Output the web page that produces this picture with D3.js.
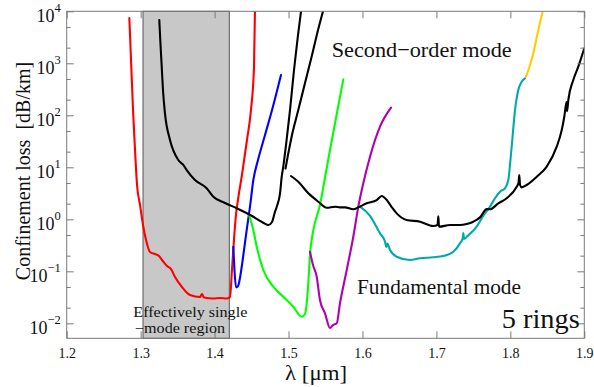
<!DOCTYPE html>
<html><head><meta charset="utf-8">
<script src="https://cdn.jsdelivr.net/npm/d3@7"></script>
<style>body{margin:0;background:#fff}svg{display:block}text{font-family:"Liberation Serif","Times New Roman",serif}</style>
</head><body><svg id="c" width="594" height="387"></svg>
<script>
// ---- data ----
const xTicks = [1.2, 1.3, 1.4, 1.5, 1.6, 1.7, 1.8, 1.9];
const yMajor = [1e-2, 1e-1, 1, 10, 100, 1000, 10000];
const yExponents = ["−2", "−1", "0", "1", "2", "3", "4"];
const yMinor = [2e-2, 5e-2, 0.2, 0.5, 2, 5, 20, 50, 200, 500, 2000, 5000];
const yDomain = [Math.pow(10, -2.288), 1e4];
const singleModeRegion = [1.3032, 1.4199];

const redCurve = [[1.2847,7430],[1.2870,1157],[1.2897,126],[1.2924,21.5],[1.2951,4.57],[1.2992,1.88],[1.3032,0.777],[1.3073,0.400],[1.3127,0.235],[1.3194,0.215],[1.3248,0.197],[1.3289,0.165],[1.3357,0.1265],[1.3411,0.1107],[1.3465,0.0776],[1.3559,0.0499],[1.3668,0.0350],[1.3803,0.0320],[1.3830,0.0366],[1.3857,0.0313],[1.3979,0.0300],[1.4073,0.0307],[1.4168,0.0300],[1.4208,0.0320],[1.4235,0.106],[1.4262,0.40],[1.4289,1.21],[1.4316,2.35],[1.4370,7.11],[1.4438,33.5],[1.4492,126],[1.4533,849],[1.4546,10000]];
const blueCurve = [[1.4253,0.297],[1.4269,0.106],[1.4290,0.0492],[1.4317,0.0521],[1.4367,0.1225],[1.4398,0.257],[1.4434,0.622],[1.4479,1.75],[1.4524,5.70],[1.4587,13.8],[1.4682,41.8],[1.4777,126],[1.4898,596]];
const greenCurve = [[1.4466,1.21],[1.4524,0.622],[1.4570,0.297],[1.4659,0.106],[1.4794,0.0506],[1.4929,0.0325],[1.5065,0.0208],[1.5178,0.0134],[1.5223,0.0151],[1.5250,0.0281],[1.5270,0.0681],[1.5290,0.206],[1.5331,0.570],[1.5425,1.88],[1.5507,8.13],[1.5561,21.5],[1.5642,88.7],[1.5741,492]];
const magentaCurve = [[1.5290,0.238],[1.5331,0.132],[1.5381,0.0787],[1.5425,0.0281],[1.5493,0.0156],[1.5561,0.00813],[1.5602,0.00927],[1.5652,0.0100],[1.5696,0.0243],[1.5787,0.106],[1.5876,0.463],[1.5944,1.75],[1.6011,4.92],[1.6102,16.0],[1.6237,60.4],[1.6386,140]];
const tealCurve = [[1.5966,1.75],[1.6102,1.17],[1.6237,0.538],[1.6305,0.371],[1.6323,0.293],[1.6336,0.343],[1.6373,0.257],[1.6463,0.191],[1.6643,0.165],[1.6778,0.178],[1.6958,0.186],[1.7093,0.197],[1.7229,0.238],[1.7319,0.345],[1.7357,0.437],[1.7364,0.546],[1.7373,0.418],[1.7410,0.463],[1.7545,0.721],[1.7634,1.17],[1.7725,1.75],[1.7792,2.54],[1.7860,3.40],[1.7928,3.95],[1.7972,5.70],[1.7995,11.1],[1.8018,24.9],[1.8063,126],[1.8107,307],[1.8153,443],[1.8198,515]];
const yellowCurve = [[1.8212,552],[1.8266,927],[1.8310,1556],[1.8378,4370],[1.8438,10000]];
const blackCurveA = [[1.3252,6810],[1.3269,2250],[1.3285,861],[1.3302,307],[1.3329,109],[1.3397,33.5],[1.3509,13.8],[1.3577,11.1],[1.3623,8.87],[1.3735,5.70],[1.3893,3.95],[1.3983,2.72],[1.4141,2.06],[1.4299,1.63],[1.4524,1.12],[1.4641,0.887],[1.4727,0.776],[1.4777,0.887],[1.4817,1.40],[1.4844,1.80],[1.4885,3.16],[1.4908,6.59],[1.4929,10.3],[1.4966,26.8],[1.5020,126],[1.5074,743],[1.5128,3500],[1.5169,10000]];
const blackCurveB = [[1.4959,9.49],[1.4993,17.3],[1.5047,41.8],[1.5132,126],[1.5223,418],[1.5318,1445],[1.5399,4370],[1.5466,10000]];
const blackCurveC = [[1.5033,6.81],[1.5132,5.28],[1.5268,3.16],[1.5403,2.18],[1.5516,1.67],[1.5629,1.75],[1.5696,1.70],[1.5764,1.70],[1.5876,1.56],[1.5944,1.70],[1.6057,2.03],[1.6193,2.35],[1.6260,2.81],[1.6328,2.35],[1.6386,1.80],[1.6463,1.30],[1.6598,0.970],[1.6778,0.900],[1.6958,0.743],[1.7015,0.776],[1.7026,1.14],[1.7035,0.721],[1.7184,0.776],[1.7319,0.776],[1.7410,0.812],[1.7499,0.900],[1.7590,1.09],[1.7680,1.57],[1.7725,1.56],[1.7837,2.03],[1.7951,2.54],[1.8086,4.24],[1.8110,4.99],[1.8121,7.11],[1.8131,4.57],[1.8154,4.12],[1.8221,4.57],[1.8357,6.59],[1.8492,10.3],[1.8627,24.9],[1.8695,52.1],[1.8730,95],[1.8760,180],[1.8767,120],[1.8784,197],[1.8851,478],[1.8919,861],[1.9000,1941]];

const series = [
  {data: redCurve, color: "#ff0000"},
  {data: blueCurve, color: "#0000ff"},
  {data: greenCurve, color: "#00ff00"},
  {data: magentaCurve, color: "#b000b0"},
  {data: tealCurve, color: "#00aaaa"},
  {data: yellowCurve, color: "#ffcc00"},
  {data: blackCurveA, color: "#000000"},
  {data: blackCurveB, color: "#000000"},
  {data: blackCurveC, color: "#000000"}
];

// ---- layout ----
const L = 66.7, R = 584.3, T = 11.3, B = 338.3;
const axisColor = "#7a7a7a";
const svg = d3.select("#c");
const x = d3.scaleLinear([1.2, 1.9], [L, R]);
const y = d3.scaleLog(yDomain, [B, T]);

svg.append("defs").append("clipPath").attr("id", "clip")
  .append("rect").attr("x", L).attr("y", T).attr("width", R - L).attr("height", B - T);

// shaded region
svg.append("rect")
  .attr("x", x(singleModeRegion[0])).attr("y", T)
  .attr("width", x(singleModeRegion[1]) - x(singleModeRegion[0])).attr("height", B - T)
  .attr("fill", "#c8c8c8").attr("stroke", "#555").attr("stroke-width", 1);

// curves
const line = d3.line().x(d => x(d[0])).y(d => y(d[1])).curve(d3.curveMonotoneX);
const plot = svg.append("g").attr("clip-path", "url(#clip)");
series.forEach(s => {
  plot.append("path").attr("d", line(s.data)).attr("fill", "none")
    .attr("stroke", s.color).attr("stroke-width", 2.1)
    .attr("stroke-linejoin", "round").attr("stroke-linecap", "round");
});

// axes
function clean(g) { g.select(".domain").remove(); g.selectAll("line").attr("stroke", axisColor); }
svg.append("g").attr("transform", `translate(0,${B})`)
  .call(d3.axisBottom(x).tickValues(xTicks).tickSize(-7).tickPadding(10).tickFormat(d3.format(".1f")))
  .call(clean)
  .call(g => g.selectAll("text").attr("font-size", 14).attr("fill", "#111")
    .style("font-family", '"Liberation Serif", serif'));
svg.append("g").attr("transform", `translate(0,${T})`)
  .call(d3.axisTop(x).tickValues(xTicks).tickSize(-7).tickFormat(""))
  .call(clean);
[[d3.axisLeft, L], [d3.axisRight, R]].forEach(([ax, pos]) => {
  svg.append("g").attr("transform", `translate(${pos},0)`)
    .call(ax(y).tickValues(yMinor).tickSize(-4).tickFormat("")).call(clean);
});
svg.append("g").attr("transform", `translate(${R},0)`)
  .call(d3.axisRight(y).tickValues(yMajor).tickSize(-7).tickFormat("")).call(clean);
const left = svg.append("g").attr("transform", `translate(${L},0)`)
  .call(d3.axisLeft(y).tickValues(yMajor).tickSize(-7).tickPadding(6).tickFormat(""))
  .call(clean);
left.selectAll(".tick text").each(function(d, i) {
  const t = d3.select(this).attr("dy", null).attr("y", 10).attr("x", -6)
    .attr("font-size", 18).attr("fill", "#111").style("font-family", '"Liberation Serif", serif');
  t.text("10");
  t.append("tspan").attr("dy", -10).attr("font-size", 12.5).text(yExponents[i]);
});

// frame
svg.append("rect").attr("x", L).attr("y", T).attr("width", R - L).attr("height", B - T)
  .attr("fill", "none").attr("stroke", axisColor).attr("stroke-width", 1);

// titles
svg.append("text").attr("transform", "translate(30,171) rotate(-90)")
  .attr("text-anchor", "middle").attr("font-size", 20).attr("fill", "#111")
  .attr("xml:space", "preserve").text("Confinement loss  [dB/km]");
svg.append("text").attr("x", 285).attr("y", 380).attr("font-size", 20).attr("fill", "#111")
  .attr("textLength", 62).attr("lengthAdjust", "spacingAndGlyphs").text("λ [μm]");

// annotations
function note(txt, px, py, size, len) {
  svg.append("text").attr("x", px).attr("y", py).attr("font-size", size).attr("fill", "#111")
    .attr("textLength", len).attr("lengthAdjust", "spacingAndGlyphs").text(txt);
}
note("Second−order mode", 331.7, 57, 22, 180);
note("Fundamental mode", 357, 293.5, 21.5, 164);
note("Effectively single", 133.3, 317, 14, 114);
note("−mode region", 135, 333, 14, 90);
note("5 rings", 501.7, 328, 27, 78);
</script></body></html>
